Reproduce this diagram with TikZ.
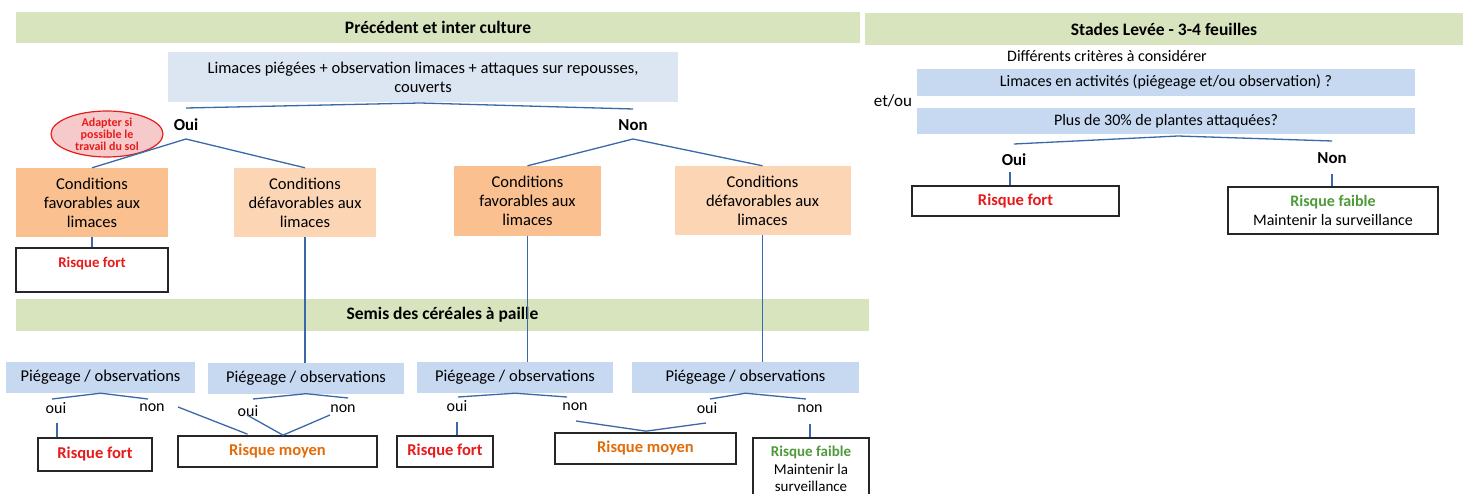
\documentclass[tikz,border=0pt]{standalone}
\usepackage{fontspec}
\setmainfont{Carlito}
\usepackage{xcolor}
\usepackage{tikz}
\usetikzlibrary{shapes.geometric, calc}

\definecolor{bandgreen}{HTML}{D7E4BD}
\definecolor{critblue}{HTML}{DCE6F2}
\definecolor{trapblue}{HTML}{C6D9F1}
\definecolor{favorange}{HTML}{FAC090}
\definecolor{defavorange}{HTML}{FCD5B5}
\definecolor{linkblue}{HTML}{3A68A8}
\definecolor{riskred}{HTML}{E81B1B}
\definecolor{riskorange}{HTML}{E36C0A}
\definecolor{riskgreen}{HTML}{4F9A3A}
\definecolor{notepink}{HTML}{F6CACA}

\newcommand{\txtbig}{\fontsize{16.5}{19}\selectfont}
\newcommand{\txtmid}{\fontsize{16}{18.5}\selectfont}
\newcommand{\txthead}{\fontsize{17.5}{20}\selectfont}

\begin{document}
\begin{tikzpicture}[x=1pt, y=-1pt,
    band/.style={rectangle, fill=bandgreen, inner sep=0pt, font=\txthead\bfseries},
    critbox/.style={rectangle, fill=critblue, inner sep=0pt, align=center, font=\txtbig},
    trapbox/.style={rectangle, fill=trapblue, inner sep=0pt, align=center, font=\txtbig},
    favbox/.style={rectangle, fill=favorange, inner sep=0pt, align=center, font=\txtbig},
    defavbox/.style={rectangle, fill=defavorange, inner sep=0pt, align=center, font=\txtbig},
    riskbox/.style={rectangle, draw=black!85, line width=1.7pt, fill=white, inner sep=0pt, align=center, font=\txtbig\bfseries},
    answer/.style={inner sep=0pt, font=\fontsize{16.8}{19}\selectfont\bfseries},
    choice/.style={inner sep=0pt, font=\txtmid},
    note/.style={ellipse, draw=riskred, fill=notepink, line width=1.2pt, inner sep=0pt, align=center, text=riskred, font=\fontsize{12}{12}\selectfont\bfseries},
    link/.style={draw=linkblue, line width=1.3pt}]

    \useasboundingbox (0,0) rectangle (1466,494);

    % --- 1. PRECEDENT ET INTER CULTURE ---
    \node[band, minimum width=844, minimum height=31] (hdrprec) at (438,27.5) {Précédent et inter culture};
    \node[critbox, minimum width=510, minimum height=50] (crit) at (423,77)
        {Limaces piégées + observation limaces + attaques sur repousses,\\couverts};

    \node[answer] (oui0) at (186,125) {Oui};
    \node[answer] (non0) at (633,125) {Non};
    \node[note, minimum width=112, minimum height=40] (adapt) at (107,134) {Adapter si\\possible le\\travail du sol};

    \node[favbox, minimum width=152, minimum height=69] (fav1) at (92,202.5) {Conditions\\favorables aux\\limaces};
    \node[defavbox, minimum width=142, minimum height=69] (defav1) at (305,202.5) {Conditions\\défavorables aux\\limaces};
    \node[favbox, minimum width=147, minimum height=70] (fav2) at (527.5,201) {Conditions\\favorables aux\\limaces};
    \node[defavbox, minimum width=176, minimum height=69] (defav2) at (762.5,200.5) {Conditions\\défavorables aux\\limaces};

    \node[riskbox, text=riskred, font=\fontsize{14.8}{17}\selectfont\bfseries, text height=19pt, text depth=25pt,
        minimum width=152] (rf0) at (92,270) {Risque fort};

    % forks
    \coordinate (critL) at (186,108);
    \coordinate (critfork) at (420,103);
    \coordinate (critR) at (633,109);
    \coordinate (ouifork) at (186,139);
    \coordinate (nonfork) at (633,139);
    \draw[link] (critL) -- (critfork) -- (critR);
    \draw[link] (fav1.north) -- (ouifork) -- (defav1.north);
    \draw[link] (fav2.north) -- (nonfork) -- (defav2.north);
    \draw[link] (fav1.south) -- (rf0.north);

    % --- 2. SEMIS DES CEREALES A PAILLE ---
    \node[band, minimum width=853, minimum height=32] (hdrsemis) at (442.5,315) {Semis des céréales à paille};

    \node[trapbox, minimum width=189, minimum height=31] (p1) at (100.5,377.5) {Piégeage / observations};
    \node[trapbox, minimum width=196, minimum height=31] (p2) at (306,378.5) {Piégeage / observations};
    \node[trapbox, minimum width=196, minimum height=31] (p3) at (515,377.5) {Piégeage / observations};
    \node[trapbox, minimum width=227, minimum height=31] (p4) at (745.5,377.5) {Piégeage / observations};

    \draw[link] (defav1.south) -- (defav1.south |- p2.north);
    \draw[link] (fav2.south) -- (fav2.south |- p3.north);
    \draw[link] (defav2.south) -- (defav2.south |- p4.north);

    \node[choice] (oui1) at (56,408) {oui};
    \node[choice] (non1) at (152,408) {non};
    \node[choice] (oui2) at (248,411) {oui};
    \node[choice] (non2) at (343,409) {non};
    \node[choice] (oui3) at (457,406) {oui};
    \node[choice] (non3) at (575,407) {non};
    \node[choice] (oui4) at (707,408) {oui};
    \node[choice] (non4) at (810,409) {non};

    \node[riskbox, text=riskred, minimum width=114, minimum height=33] (rf1) at (95,454.5) {Risque fort};
    \node[riskbox, text=riskorange, minimum width=199, minimum height=31] (rm1) at (277.5,451.5) {Risque moyen};
    \node[riskbox, text=riskred, minimum width=96, minimum height=31] (rf2) at (445,451.5) {Risque fort};
    \node[riskbox, text=riskorange, minimum width=181, minimum height=31] (rm2) at (645.5,448.5) {Risque moyen};
    \node[riskbox, font=\fontsize{15}{17.2}\selectfont, minimum width=116, minimum height=62, anchor=north] (rfa1) at (811,437)
        {\textcolor{riskgreen}{\bfseries Risque faible}\\Maintenir la\\surveillance};

    % forks under the traps
    \coordinate (p1L) at (52,399);
    \coordinate (p1R) at (148,399);
    \coordinate (p2L) at (253,399);
    \coordinate (p2R) at (348,398);
    \coordinate (p3L) at (458,397);
    \coordinate (p3R) at (567,397);
    \coordinate (p4L) at (710,399);
    \coordinate (p4R) at (806,399);
    \draw[link] (p1L) -- (p1.south) -- (p1R);
    \draw[link] (p2L) -- ($(p2.south)+(0,-0.5)$) -- (p2R);
    \draw[link] (p3L) -- (p3.south) -- (p3R);
    \draw[link] (p4L) -- (p4.south) -- (p4R);

    \coordinate (oui1e) at (57,423);
    \coordinate (non1e) at (178,407);
    \coordinate (oui2e) at (247,415);
    \coordinate (non2e) at (330,415);
    \coordinate (oui3e) at (457,422);
    \coordinate (non3e) at (576,421);
    \coordinate (oui4e) at (706,423);
    \coordinate (non4e) at (810,424);
    \draw[link] (oui1e) -- (oui1e |- rf1.north);
    \draw[link] (non1e) -- ($(rm1.north)+(-30,-1)$);
    \draw[link] (oui2e) -- ($(rm1.north)+(5.5,0)$) -- (non2e);
    \draw[link] (oui3e) -- (oui3e |- rf2.north);
    \draw[link] (non3e) -- ($(rm2.north)+(0.5,-1)$) -- (oui4e);
    \draw[link] (non4e) -- (non4e |- rfa1.north);

    % --- 3. STADES LEVEE - 3-4 FEUILLES ---
    \node[band, minimum width=598, minimum height=32] (hdrlevee) at (1164,29) {Stades Levée - 3-4 feuilles};
    \node[choice] (crits) at (1107,56) {Différents critères à considérer};
    \node[trapbox, font=\txtmid, minimum width=498, minimum height=27] (q1) at (1166,82.5) {Limaces en activités (piégeage et/ou observation) ?};
    \node[choice, font=\fontsize{17}{19}\selectfont] (etou) at (893,101) {et/ou};
    \node[trapbox, font=\txtmid, minimum width=498, minimum height=26] (q2) at (1166,121) {Plus de 30\% de plantes attaquées?};

    \node[answer] (oui5) at (1014,160) {Oui};
    \node[answer] (non5) at (1332,158) {Non};

    \node[riskbox, text=riskred, minimum width=207, minimum height=30] (rf3) at (1015.5,201) {Risque fort};
    \node[riskbox, font=\txtmid, minimum width=210, minimum height=47] (rfa2) at (1333,210.5)
        {\textcolor{riskgreen}{\bfseries Risque faible}\\Maintenir la surveillance};

    \coordinate (q2L) at (1014,144);
    \coordinate (q2fork) at (1178,136);
    \coordinate (q2R) at (1332,141);
    \draw[link] (q2L) -- (q2fork) -- (q2R);
    \coordinate (oui5e) at (1010,172);
    \coordinate (non5e) at (1332,174);
    \draw[link] (oui5e) -- (oui5e |- rf3.north);
    \draw[link] (non5e) -- (non5e |- rfa2.north);

\end{tikzpicture}
\end{document}
